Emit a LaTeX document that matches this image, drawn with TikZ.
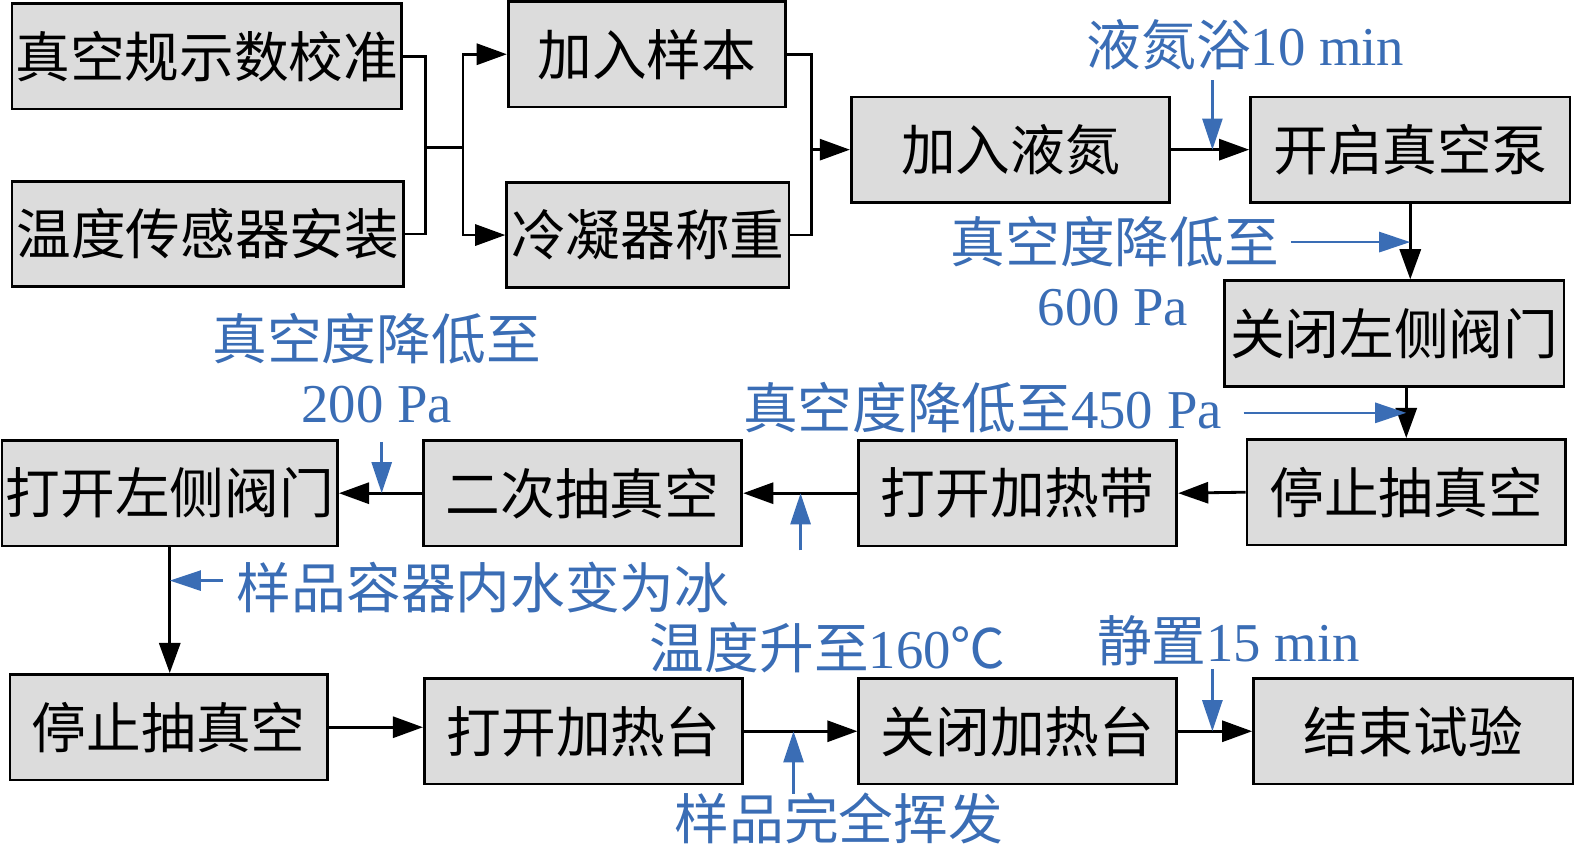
\documentclass[tikz,border=0pt]{standalone}
\usepackage{fontspec}
\setmainfont{Liberation Serif}
\newfontfamily\cjk{Noto Sans CJK SC}
\usepackage{xcolor}
\usepackage{tikz}
\usetikzlibrary{shapes, arrows.meta, positioning}
\definecolor{noteblue}{HTML}{3A6DB5}
\definecolor{boxgray}{HTML}{DCDCDC}

\begin{document}
\begin{tikzpicture}[
            x=0.02cm, y=-0.02cm,
            stage/.style={rectangle, draw, fill=boxgray, line width=1.6pt, inner sep=0pt,
                minimum width=#1*0.02cm, minimum height=2.1cm, font=\cjk\fontsize{31}{36}\selectfont},
            stage/.default=317,
            link/.style={line width=1.6pt},
            flow/.style={line width=1.6pt, -{Triangle[length=0.6cm, width=0.42cm]}},
            note/.style={text=noteblue, inner sep=0pt, font=\fontsize{31}{36}\selectfont},
            hint/.style={draw=noteblue, line width=1.4pt, -{Triangle[length=0.62cm, width=0.4cm]}}
        ]
        \useasboundingbox (0,0) rectangle (1568,852);

        % First row - preparation
        \node[stage=388] (gauge) at (206,56) {真空规示数校准};
        \node[stage=390] (sensor) at (207,233) {温度传感器安装};
        \node[stage=276] (sample) at (644,54) {加入样本};
        \node[stage=281] (weigh) at (645,234) {冷凝器称重};
        \node[stage] (nitro) at (1006,149) {加入液氮};
        \node[stage=318] (pump) at (1404,149) {开启真空泵};

        % Right column
        \node[stage=338] (closeL) at (1388,332) {关闭左侧阀门};
        \node[stage] (stopA) at (1400,490) {停止抽真空};

        % Second row - right to left
        \node[stage] (heatband) at (1013,491) {打开加热带};
        \node[stage] (second) at (580,491) {二次抽真空};
        \node[stage=334] (openL) at (169,491) {打开左侧阀门};

        % Third row
        \node[stage=316] (stopB) at (168,724) {停止抽真空};
        \node[stage] (heatOn) at (581,728) {打开加热台};
        \node[stage=316] (heatOff) at (1013,728) {关闭加热台};
        \node[stage=318] (finish) at (1407,728) {结束试验};

        % Junctions
        \coordinate (j1) at (424,147);
        \coordinate (j2) at (461,147);
        \coordinate (j3) at (808,149);

        % Flow lines
        \draw[link] (gauge.east) -| (j1);
        \draw[link] (sensor.east) -| (j1);
        \draw[link] (j1) -- (j2);
        \draw[flow] (j2) |- (sample.west);
        \draw[flow] (j2) |- (weigh.west);
        \draw[link] (sample.east) -| (j3);
        \draw[link] (weigh.east) -| (j3);
        \draw[flow] (j3) -- (nitro.west);
        \draw[flow] (nitro.east) -- (pump.west);
        \draw[flow] (pump.south) -- (pump.south |- closeL.north);
        \draw[flow] (stopA.north |- closeL.south) -- (stopA.north);
        \draw[flow] (stopA.west) -- (heatband.east);
        \draw[flow] (heatband.west) -- (second.east);
        \draw[flow] (second.west) -- (openL.east);
        \draw[flow] (openL.south) -- (openL.south |- stopB.north);
        \draw[flow] (stopB.east) -- (stopB.east -| heatOn.west);
        \draw[flow] (heatOn.east) -- (heatOff.west);
        \draw[flow] (heatOff.east) -- (finish.west);

        % Conditions
        \node[note] (tBath) at (1240,45) {{\cjk 液氮浴}10 min};
        \node[note] (tDrop1) at (1110,241) {\cjk 真空度降低至};
        \node[note] (tP600) at (1108,306) {600 Pa};
        \node[note] (tDrop2) at (978,406) {{\cjk 真空度降低至}450 Pa};
        \node[note] (tDrop3) at (375,337) {\cjk 真空度降低至};
        \node[note] (tP200) at (375,403) {200 Pa};
        \node[note] (tIce) at (481,585) {\cjk 样品容器内水变为冰};
        \node[note] (tTemp) at (824,645) {{\cjk 温度升至}160{\cjk ℃}};
        \node[note] (tGone) at (835,815) {\cjk 样品完全挥发};
        \node[note] (tRest) at (1223,638) {{\cjk 静置}15 min};

        \coordinate (h1) at (1207,80);
        \coordinate (h2) at (1285,241);
        \coordinate (h3) at (1238,411);
        \coordinate (h4) at (797,548);
        \coordinate (h5) at (380,440);
        \coordinate (h6) at (222,578);
        \coordinate (h7) at (790,790);
        \coordinate (h8) at (1207,666);

        \draw[hint] (h1) -- (h1 |- pump.west);
        \draw[hint] (h2) -- (h2 -| pump.south);
        \draw[hint] (h3) -- (h3 -| stopA.north);
        \draw[hint] (h4) -- (h4 |- heatband.west);
        \draw[hint] (h5) -- (h5 |- second.west);
        \draw[hint] (h6) -- (h6 -| openL.south);
        \draw[hint] (h7) -- (h7 |- heatOff.west);
        \draw[hint] (h8) -- (h8 |- finish.west);

    \end{tikzpicture}
\end{document}
